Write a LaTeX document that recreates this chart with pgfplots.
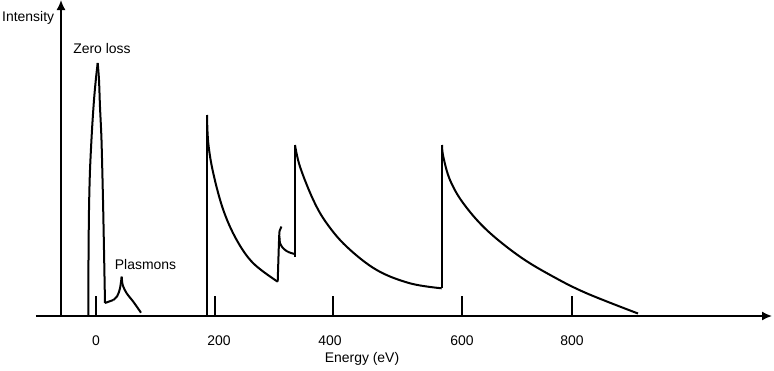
\documentclass[border=0pt]{standalone}
\usepackage{pgfplots}
\pgfplotsset{compat=1.18}
\usepackage{fontspec}
\setmainfont{Liberation Sans}
\usetikzlibrary{arrows.meta}
\begin{document}
\begin{tikzpicture}
\begin{axis}[
  x=1bp, y=1bp,
  xmin=-25, xmax=711, ymin=0, ymax=316,
  enlargelimits=false,
  axis lines=middle,
  axis line style={line width=1.6bp},
  x axis line style={-{Latex[length=10bp,width=9bp]}},
  y axis line style={-{Latex[length=10bp,width=9bp]}},
  xtick={35,158,269,401,511},
  xticklabels={0,200,400,600,800},
  ytick=\empty,
  major tick length=0pt,
  xticklabel style={anchor=center, yshift=-25bp, font=\fontsize{14}{17}\selectfont},
  /pgf/number format/assume math mode=true,
  clip=false,
  every axis plot/.append style={line width=2bp, black, no markers, line join=round},
]
% tick marks
\addplot[sharp plot] coordinates {(35,0) (35,20)};
\addplot[sharp plot] coordinates {(154,0) (154,20)};
\addplot[sharp plot] coordinates {(272,0) (272,20)};
\addplot[sharp plot] coordinates {(401,0) (401,20)};
\addplot[sharp plot] coordinates {(511,0) (511,20)};
% zero loss peak
\addplot[smooth, tension=0.5] coordinates {(27.3,0) (27.5,56) (28,106) (29,146) (31,186) (33,216) (35,238) (36.7,253)};
\addplot[smooth, tension=0.5] coordinates {(36.7,253) (38,236) (39,209) (40.5,176) (42,116) (43,66) (44,13)};
\addplot[sharp plot] coordinates {(44,13) (52.3,16)};
% plasmon
\addplot[smooth, tension=0.5] coordinates {(52.3,16) (56.3,20) (59,27.7) (60.7,39.3)};
\addplot[smooth, tension=0.5] coordinates {(60.7,39.3) (61.7,31) (65.7,22.7) (72.3,14.3) (80,3.3)};
% edge 1
\addplot[sharp plot] coordinates {(146,0) (146,201)};
\addplot[smooth, tension=0.6] coordinates {(146,201) (147.3,172.7) (152.3,142.7) (162.3,106) (175.7,76) (192.3,52.7) (216.7,34.3)};
% edge 2 (small)
\addplot[smooth, tension=0.5] coordinates {(216.7,34.3) (218.2,80) (219,86) (220.5,89.5)};
\addplot[smooth, tension=0.5] coordinates {(218.4,80) (219,73) (221.5,68.5) (225.5,65) (230,63) (234,62)};
% edge 3
\addplot[sharp plot] coordinates {(234,59) (234,171)};
\addplot[smooth, tension=0.6] coordinates {(234,171) (239,149.3) (252.3,116) (265.7,92.7) (285.7,69.3) (315.7,46) (349,32.7) (380.7,27.7)};
% edge 4
\addplot[sharp plot] coordinates {(381,27.7) (381,171)};
\addplot[smooth, tension=0.6] coordinates {(381,171) (382.3,159.3) (389,136) (402.3,112.7) (425.7,86) (459,59.3) (492.3,39.3) (525.7,22.7) (577,2.5)};
% labels
\node[anchor=west, inner sep=0pt, font=\fontsize{14}{17}\selectfont] at (axis cs:-59,298) {Intensity};
\node[anchor=center, inner sep=0pt, font=\fontsize{14}{17}\selectfont] at (axis cs:41,267) {Zero loss};
\node[anchor=center, inner sep=0pt, font=\fontsize{14}{17}\selectfont] at (axis cs:84.5,51.5) {Plasmons};
\node[anchor=center, inner sep=0pt, font=\fontsize{14}{17}\selectfont] at (axis cs:301,-43) {Energy (eV)};
\coordinate (bl) at (axis cs:-61,-54);
\coordinate (tr) at (axis cs:713,316);
\end{axis}
\pgfresetboundingbox
\path[use as bounding box] (bl) rectangle (tr);
\end{tikzpicture}
\end{document}
